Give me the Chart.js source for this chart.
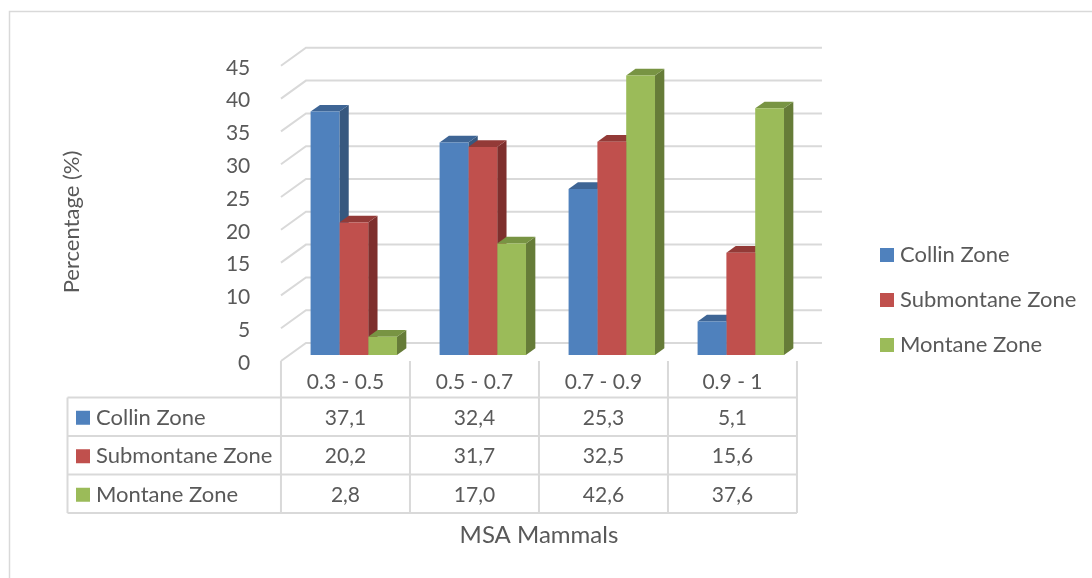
<!DOCTYPE html>
<html>
<head>
<meta charset="utf-8">
<script src="https://cdn.jsdelivr.net/npm/chart.js@4.4.0/dist/chart.umd.min.js"></script>
<style>
  html, body { margin: 0; padding: 0; background: #ffffff; }
  canvas { display: block; }
</style>
</head>
<body>
<canvas id="chart" width="1092" height="578"></canvas>
<script>
// MSA classes on the category axis
const categories = ['0.3 - 0.5', '0.5 - 0.7', '0.7 - 0.9', '0.9 - 1'];
// Percentages per altitudinal zone
const collinZone = [37.1, 32.4, 25.3, 5.1];
const submontaneZone = [20.2, 31.7, 32.5, 15.6];
const montaneZone = [2.8, 17.0, 42.6, 37.6];
const seriesNames = ['Collin Zone', 'Submontane Zone', 'Montane Zone'];
const yMin = 0, yMax = 45, yStep = 5;

const FONT = 'Lato, "Open Sans", "Liberation Sans", sans-serif';
const TEXT = '#595959';
const GRID = '#d9d9d9';
const frontColors = ['#4f81bd', '#c0504d', '#9bbb59'];
const sideColors  = ['#37587f', '#7e2f2d', '#667c38'];
const topColors   = ['#3e6595', '#933a37', '#789443'];

// Perspective of the 3-D floor: full depth offset front -> back wall
const DEPTH_X = 25, DEPTH_Y = 18;
const BAR_PLANE = 1 / 3;     // bars stand a third of the way back
const BAR_DEPTH = 0.373;     // thickness of each bar, as a share of the depth

const fmt = v => v.toFixed(1).replace('.', ',');

// Back wall, side-wall grid and the side/top faces of each bar
const wallsAndFaces = {
  id: 'wallsAndFaces',
  beforeDraw(chart) {
    const ctx = chart.ctx;
    ctx.save();
    ctx.strokeStyle = GRID;
    ctx.lineWidth = 1.5;
    ctx.strokeRect(9.5, 11.5, 1200, 700);
    ctx.restore();
  },
  beforeDatasetsDraw(chart) {
    const ctx = chart.ctx;
    const ys = chart.scales.y;
    const area = chart.chartArea;
    const bx = DEPTH_X * (1 - BAR_PLANE), by = DEPTH_Y * (1 - BAR_PLANE);
    const fx = DEPTH_X * BAR_PLANE, fy = DEPTH_Y * BAR_PLANE;
    ctx.save();
    ctx.strokeStyle = GRID;
    ctx.lineWidth = 2;
    ys.ticks.forEach(t => {
      const py = ys.getPixelForValue(t.value);
      ctx.beginPath();
      ctx.moveTo(area.left - fx, py + fy);
      ctx.lineTo(area.left + bx, py - by);
      ctx.lineTo(area.right + bx, py - by);
      ctx.stroke();
    });
    const sx = DEPTH_X * BAR_DEPTH, sy = DEPTH_Y * BAR_DEPTH;
    chart.data.datasets.forEach((ds, d) => {
      const meta = chart.getDatasetMeta(d);
      meta.data.forEach(bar => {
        const p = bar.getProps(['x', 'y', 'base', 'width'], true);
        const l = p.x - p.width / 2, r = p.x + p.width / 2;
        ctx.fillStyle = sideColors[d];
        ctx.beginPath();
        ctx.moveTo(r, p.base);
        ctx.lineTo(r + sx, p.base - sy);
        ctx.lineTo(r + sx, p.y - sy);
        ctx.lineTo(r, p.y);
        ctx.closePath();
        ctx.fill();
        ctx.fillStyle = topColors[d];
        ctx.beginPath();
        ctx.moveTo(l, p.y);
        ctx.lineTo(l + sx, p.y - sy);
        ctx.lineTo(r + sx, p.y - sy);
        ctx.lineTo(r, p.y);
        ctx.closePath();
        ctx.fill();
      });
    });
    ctx.restore();
  }
};

// Data table under the plot, legend on the right, axis titles
const tableAndLegend = {
  id: 'tableAndLegend',
  afterDraw(chart) {
    const ctx = chart.ctx;
    const xs = chart.scales.x, ys = chart.scales.y;
    const fx = DEPTH_X * BAR_PLANE, fy = DEPTH_Y * BAR_PLANE;
    const step = xs.getPixelForValue(1) - xs.getPixelForValue(0);
    const floorY = ys.getPixelForValue(0) + fy;
    const edges = categories.map((_, i) => xs.getPixelForValue(i) - fx - step / 2);
    edges.push(edges[edges.length - 1] + step);
    const tableLeft = 67.5;
    const headerBottom = floorY + 36.5;
    const rowH = 38.5;
    const rows = [collinZone, submontaneZone, montaneZone];
    const tableBottom = headerBottom + rowH * rows.length;

    ctx.save();
    ctx.strokeStyle = GRID;
    ctx.lineWidth = 2;
    // vertical lines
    edges.forEach(x => {
      ctx.beginPath();
      ctx.moveTo(x, floorY);
      ctx.lineTo(x, tableBottom);
      ctx.stroke();
    });
    ctx.beginPath();
    ctx.moveTo(tableLeft, headerBottom);
    ctx.lineTo(tableLeft, tableBottom);
    ctx.stroke();
    // horizontal lines
    for (let i = 0; i <= rows.length; i++) {
      const y = headerBottom + i * rowH;
      ctx.beginPath();
      ctx.moveTo(tableLeft, y);
      ctx.lineTo(edges[edges.length - 1], y);
      ctx.stroke();
    }

    const numFont = '21px ' + FONT;
    const nameFont = '22px ' + FONT;
    ctx.fillStyle = TEXT;
    ctx.textBaseline = 'middle';
    ctx.textAlign = 'center';
    ctx.font = numFont;
    categories.forEach((c, i) => {
      ctx.fillText(c, (edges[i] + edges[i + 1]) / 2, (floorY + headerBottom) / 2 + 3);
    });
    rows.forEach((vals, r) => {
      const cy = headerBottom + rowH * (r + 0.5) + 1;
      ctx.fillStyle = frontColors[r];
      ctx.fillRect(76, cy - 7, 14, 14);
      ctx.fillStyle = TEXT;
      ctx.textAlign = 'left';
      ctx.font = nameFont;
      ctx.fillText(seriesNames[r], 96, cy);
      ctx.textAlign = 'center';
      ctx.font = numFont;
      vals.forEach((v, i) => ctx.fillText(fmt(v), (edges[i] + edges[i + 1]) / 2, cy));
    });

    // legend
    ctx.font = nameFont;
    seriesNames.forEach((name, i) => {
      const cy = 255 + i * 45;
      ctx.fillStyle = frontColors[i];
      ctx.fillRect(880, cy - 7, 14, 14);
      ctx.fillStyle = TEXT;
      ctx.textAlign = 'left';
      ctx.fillText(name, 900, cy);
    });

    // axis titles
    ctx.textAlign = 'center';
    ctx.font = '24px ' + FONT;
    ctx.fillText('MSA Mammals', (edges[0] + edges[edges.length - 1]) / 2, 535);
    ctx.font = nameFont;
    ctx.translate(72, 222);
    ctx.rotate(-Math.PI / 2);
    ctx.fillText('Percentage (%)', 0, 0);
    ctx.restore();
  }
};

new Chart(document.getElementById('chart'), {
  type: 'bar',
  data: {
    labels: categories,
    datasets: [
      { label: seriesNames[0], data: collinZone, backgroundColor: frontColors[0] },
      { label: seriesNames[1], data: submontaneZone, backgroundColor: frontColors[1] },
      { label: seriesNames[2], data: montaneZone, backgroundColor: frontColors[2] }
    ]
  },
  options: {
    responsive: false,
    animation: false,
    devicePixelRatio: 1,
    layout: { padding: { left: 0, right: 1092 - 805.3, top: 59.8, bottom: 578 - 355 } },
    datasets: { bar: { categoryPercentage: 0.67, barPercentage: 1.0, borderWidth: 0 } },
    plugins: { legend: { display: false }, tooltip: { enabled: false } },
    scales: {
      x: { display: false, offset: true },
      y: {
        min: yMin, max: yMax,
        ticks: { stepSize: yStep, autoSkip: false, padding: 31, labelOffset: 8, color: TEXT,
                 font: { family: FONT, size: 21 } },
        grid: { display: false },
        border: { display: false },
        afterFit(scale) { scale.width = 289.3; }
      }
    }
  },
  plugins: [wallsAndFaces, tableAndLegend]
});
</script>
</body>
</html>
